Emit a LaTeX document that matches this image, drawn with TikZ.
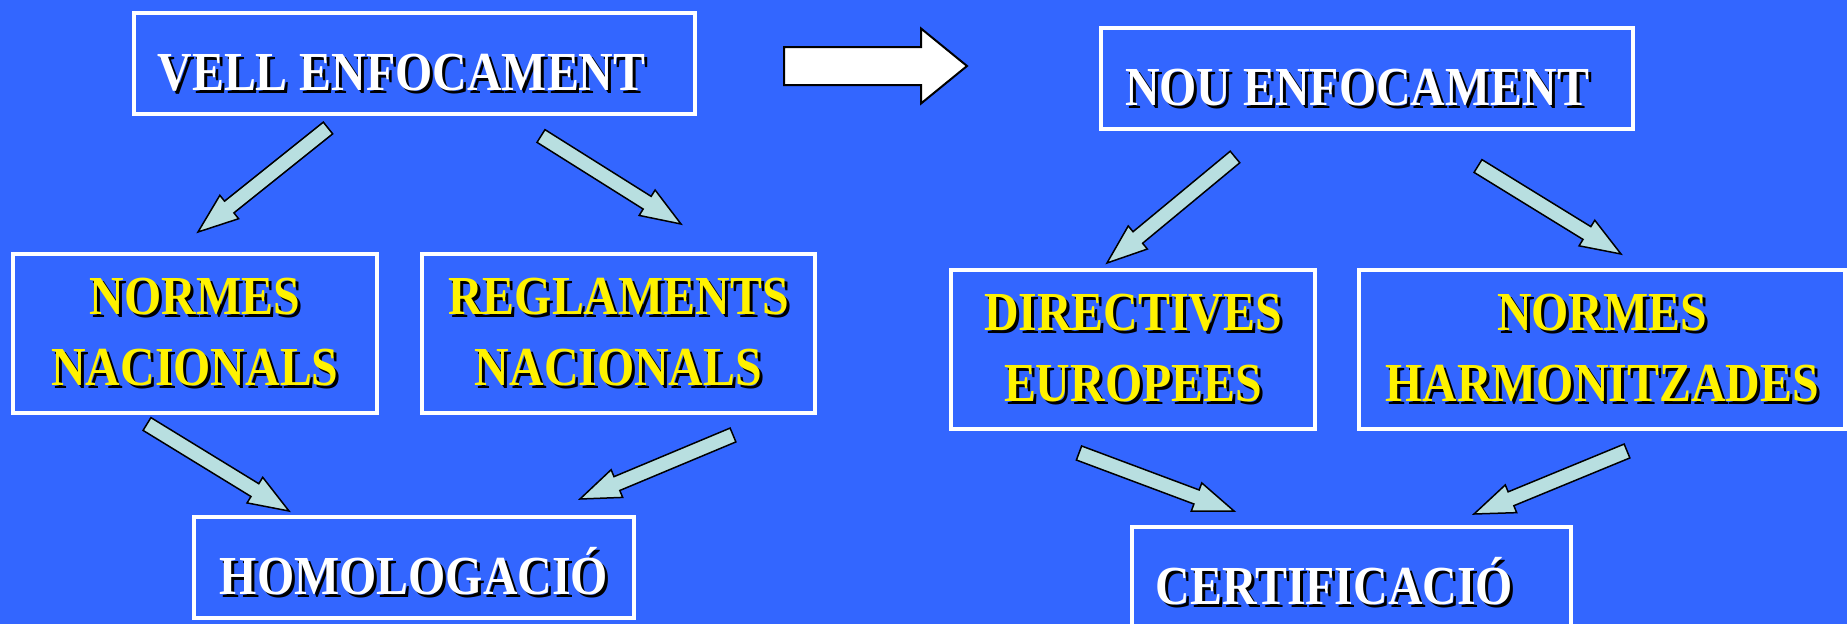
\documentclass[tikz,border=0pt]{standalone}
\usepackage{fontspec}
\newfontfamily\slidefont{Liberation Serif}[FakeStretch=0.87]
\usetikzlibrary{calc,positioning}
\definecolor{slideblue}{HTML}{3366FF}
\definecolor{flowcyan}{HTML}{B8DFE0}
% text with a dropped black shadow
\newcommand{\shtxt}[1]{\makebox[0pt][l]{\kern3pt\raisebox{-3pt}{\color{black}#1}}#1}
% block arrow: style, tail, tip, shaft half width, head half width, head length
\newcommand{\blockarrow}[6]{%
  \coordinate (hb) at ($(#3)!#6!(#2)$);
  \filldraw[#1] ($(#2)!#4!90:(#3)$) -- ($(hb)!#4!90:(#3)$) -- ($(hb)!#5!90:(#3)$) -- (#3)
    -- ($(hb)!#5!-90:(#3)$) -- ($(hb)!#4!-90:(#3)$) -- ($(#2)!#4!-90:(#3)$) -- cycle;}
\tikzset{
  box/.style={draw=white, line width=4pt, rectangle, align=center, inner sep=0pt,
    font=\slidefont\bfseries\fontsize{55}{71}\selectfont},
  titlebox/.style={box, text=white, minimum height=101pt, text height=54pt, text depth=0pt},
  normbox/.style={box, text=yellow, minimum height=159pt},
  flow/.style={draw=black, line width=1.5pt, fill=flowcyan, line join=miter},
  bigflow/.style={draw=black, line width=2pt, fill=white, line join=miter},
}

\begin{document}
\begin{tikzpicture}[x=1pt, y=-1pt]
  \useasboundingbox (0,0) rectangle (1847,624);
  \clip (0,0) rectangle (1847,624);
  \fill[slideblue] (0,0) rectangle (1847,624);

  \node[titlebox, minimum width=561pt] (vell) at (414.5,63.5) {\shtxt{VELL ENFOCAMENT}\hspace*{26pt}};
  \node[titlebox, minimum width=532pt] (nou) at (1367,78) {\shtxt{NOU ENFOCAMENT}\hspace*{20pt}};

  \node[normbox, minimum width=364pt] (normnac) at (195,333.5) {\shtxt{NORMES}\\\shtxt{NACIONALS}};
  \node[normbox, minimum width=393pt] (reglnac) at (618.5,333.5) {\shtxt{REGLAMENTS}\\\shtxt{NACIONALS}};
  \node[normbox, minimum width=364pt] (direu) at (1133,349.5) {\shtxt{DIRECTIVES}\\\shtxt{EUROPEES}};
  \node[normbox, minimum width=486pt] (normharm) at (1602,349.5) {\shtxt{NORMES}\\\shtxt{HARMONITZADES}};

  \node[titlebox, minimum width=440pt] (homol) at (414,567.5) {\shtxt{HOMOLOGACIÓ}};
  \node[titlebox, minimum width=439pt] (certif) at (1351.5,577.5) {\shtxt{CERTIFICACIÓ}\hspace*{34pt}};

  % arrow ends
  \coordinate (vell-s1) at (328,128);   \coordinate (normnac-n) at (198,232);
  \coordinate (vell-s2) at (541,136);   \coordinate (reglnac-n) at (681,224);
  \coordinate (nou-s1) at (1235,157);   \coordinate (direu-n) at (1107,263);
  \coordinate (nou-s2) at (1478,166);   \coordinate (normharm-n) at (1621,254);
  \coordinate (normnac-s) at (147,424); \coordinate (homol-n1) at (289,511);
  \coordinate (reglnac-s) at (733,435); \coordinate (homol-n2) at (580,499);
  \coordinate (direu-s) at (1079,453);  \coordinate (certif-n1) at (1234,511);
  \coordinate (normharm-s) at (1627,451); \coordinate (certif-n2) at (1474,514);
  \coordinate (old-new-a) at (784,66);  \coordinate (old-new-b) at (967,66);

  \blockarrow{bigflow}{old-new-a}{old-new-b}{19pt}{37.5pt}{46pt}
  \foreach \s/\e in {vell-s1/normnac-n, vell-s2/reglnac-n, nou-s1/direu-n, nou-s2/normharm-n,
      normnac-s/homol-n1, reglnac-s/homol-n2, direu-s/certif-n1, normharm-s/certif-n2}
    {\blockarrow{flow}{\s}{\e}{7.5pt}{15pt}{40pt}}
\end{tikzpicture}
\end{document}
